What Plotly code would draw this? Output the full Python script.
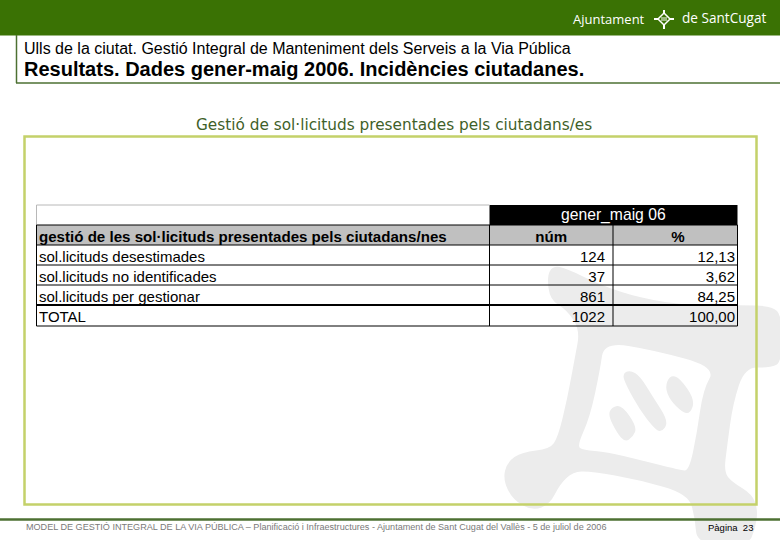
import plotly.graph_objects as go

W, H = 780, 540

# dades de la taula
categories = ['sol.licituds desestimades', 'sol.licituds no identificades', 'sol.licituds per gestionar', 'TOTAL']
num_values = ['124', '37', '861', '1022']
pct_values = ['12,13', '3,62', '84,25', '100,00']
table_title = 'gestió de les sol·licituds presentades pels ciutadans/nes'
col_num = 'núm'
col_pct = '%'
period = 'gener_maig 06'

GREEN = '#3a7204'
FRAME = '#c4d16a'
LINE_GREEN = '#4d7032'
WATERMARK = '#ececec'

# limits de la taula en pixels
COLS = [36.5, 489.5, 613, 737.5]
ROWS = [205, 225, 245, 265, 285, 305, 326]
TEXT_LEFT, TEXT_RIGHT = 31, 743
TEXT_SHIFT = 2


def px(x):
    return x / W


def py(y):
    return 1 - y / H


def smooth_path(points):
    """tanca un contorn amb corbes entre els punts mitjans"""
    mids = [((points[i][0] + points[(i + 1) % len(points)][0]) / 2,
             (points[i][1] + points[(i + 1) % len(points)][1]) / 2) for i in range(len(points))]
    d = f'M{px(mids[-1][0]):.5f},{py(mids[-1][1]):.5f}'
    for p, m in zip(points, mids):
        d += f' Q{px(p[0]):.5f},{py(p[1]):.5f} {px(m[0]):.5f},{py(m[1]):.5f}'
    return d + ' Z'


def rect(x0, y0, x1, y1, fill=None, line=None, width=1):
    return dict(type='rect', xref='paper', yref='paper', layer='below',
                x0=px(x0), x1=px(x1), y0=py(y0), y1=py(y1),
                fillcolor=fill or 'rgba(0,0,0,0)',
                line=dict(color=line or 'rgba(0,0,0,0)', width=width if line else 0))


def seg(x0, y0, x1, y1, color='black', width=1):
    return dict(type='line', xref='paper', yref='paper', layer='above',
                x0=px(x0), x1=px(x1), y0=py(y0), y1=py(y1),
                line=dict(color=color, width=width))


def text(x, y, s, size, color='black', anchor='left', family='Liberation Sans'):
    return dict(xref='paper', yref='paper', x=px(x), y=py(y), text=s, showarrow=False,
                xanchor=anchor, yanchor='middle', borderpad=0,
                font=dict(family=family, size=size, color=color))


# marca d'aigua del fons
outline = [(547, 276), (553, 266), (566, 268), (600, 285), (640, 298), (690, 306), (740, 305), (772, 306),
           (782, 316), (782, 362), (770, 368), (745, 367), (733, 403), (727, 447), (724, 472), (732, 482),
           (752, 494), (758, 510), (755, 530), (748, 545), (697, 545), (695, 517), (688, 494), (640, 480),
           (590, 471), (573, 472), (560, 484), (550, 504), (533, 511), (513, 500), (503, 480), (507, 462),
           (522, 452), (550, 449), (558, 437), (567, 400), (575, 357), (580, 330), (567, 310), (550, 300)]
hole = [(604, 342), (653, 350), (716, 367), (703, 390), (697, 433), (689, 471), (680, 470), (640, 460),
        (607, 452), (583, 450), (577, 446), (590, 417), (600, 370)]
blob_a = [(622, 374), (630, 370), (640, 376), (653, 397), (669, 422), (661, 433), (653, 427), (640, 410), (627, 387)]
blob_b = [(665, 387), (670, 375), (680, 378), (695, 400), (690, 414), (682, 412), (670, 400)]
blob_c = [(608, 415), (612, 407), (622, 405), (637, 427), (633, 437), (625, 442), (617, 433)]
watermark = ' '.join(smooth_path(p) for p in [outline, hole, blob_a, blob_b, blob_c])

shapes = [
    dict(type='path', xref='paper', yref='paper', layer='below', path=watermark,
         fillcolor=WATERMARK, line=dict(width=0)),
    rect(0, 0, W, 35.5, fill=GREEN),
    rect(24.5, 136.5, 756.5, 504.5, line=FRAME, width=2.5),
    rect(COLS[0], ROWS[1], COLS[3], ROWS[2], fill='#c0c0c0'),
    rect(COLS[1], ROWS[0], COLS[3], ROWS[1], fill='black'),
    seg(16.5, 35, 16.5, 83, color=LINE_GREEN, width=1.5),
    seg(16, 83, W, 83, color=LINE_GREEN, width=1.5),
    seg(0, 519.5, W, 519.5, color=LINE_GREEN, width=2.5),
    # reixa de la taula
    seg(COLS[0], ROWS[0], COLS[1], ROWS[0], color='#b8b8b8'),
    seg(COLS[0], ROWS[0], COLS[0], ROWS[1], color='#b8b8b8'),
]
for y in ROWS[1:]:
    shapes.append(seg(COLS[0], y, COLS[3], y, width=2 if y == ROWS[5] else 1))
for x in COLS:
    shapes.append(seg(x, ROWS[1], x, ROWS[-1]))

# escut del logotip
LX, LY = 664, 19
shapes += [
    dict(type='path', xref='paper', yref='paper', layer='above',
         path=f'M{px(LX)},{py(LY - 6)} L{px(LX + 6)},{py(LY)} L{px(LX)},{py(LY + 6)} L{px(LX - 6)},{py(LY)} Z',
         fillcolor='rgba(0,0,0,0)', line=dict(color='white', width=1.5)),
    seg(LX - 10, LY, LX - 6, LY, color='white', width=2),
    seg(LX + 6, LY, LX + 10, LY, color='white', width=2),
    seg(LX, LY - 9, LX, LY - 6, color='white', width=2),
    seg(LX, LY + 6, LX, LY + 10, color='white', width=2),
    seg(LX - 2, LY - 2, LX - 2, LY + 2, color='white', width=1),
    seg(LX, LY - 2, LX, LY + 2, color='white', width=1),
    seg(LX + 2, LY - 2, LX + 2, LY + 2, color='white', width=1),
]

annotations = [
    text(572, 19, 'Ajuntament', 13, color='white', family='Open Sans'),
    text(681, 18, 'de SantCugat', 13.6, color='white', family='Open Sans'),
    text(23, 48, 'Ulls de la ciutat. Gestió Integral de Manteniment dels Serveis a la Via Pública', 16),
    text(23, 69, '<b>Resultats. Dades gener-maig 2006. Incidències ciutadanes.</b>', 20),
    text(394, 125, 'Gestió de sol·licituds presentades pels ciutadans/es', 15.3, color='#3f5f2a', anchor='center', family='DejaVu Sans'),
    text((COLS[1] + COLS[3]) / 2, 215, period, 15.7, color='white', anchor='center'),
    text(25, 527, 'MODEL DE GESTIÓ INTEGRAL DE LA VIA PÚBLICA – Planificació i Infraestructures - Ajuntament de Sant Cugat del Vallès - 5 de juliol de 2006', 9.08, color='#7a7a7a'),
    text(707, 527, 'Pàgina  23', 9.5),
]

fig = go.Figure(go.Table(
    domain=dict(x=[px(TEXT_LEFT), px(TEXT_RIGHT)], y=[py(ROWS[-1] + 1), py(ROWS[1] - TEXT_SHIFT)]),
    columnwidth=[COLS[1] - TEXT_LEFT, COLS[2] - COLS[1], TEXT_RIGHT - COLS[2]],
    header=dict(
        values=[table_title, col_num, col_pct],
        height=20,
        align=['left', 'center', 'center'],
        fill=dict(color='rgba(0,0,0,0)'),
        line=dict(width=0, color='rgba(0,0,0,0)'),
        font=dict(family='Liberation Sans', size=15.1, color='black', weight='bold'),
    ),
    cells=dict(
        values=[categories, num_values, pct_values],
        height=20,
        align=['left', 'right', 'right'],
        fill=dict(color='rgba(0,0,0,0)'),
        line=dict(width=0, color='rgba(0,0,0,0)'),
        font=dict(family='Liberation Sans', size=15, color='black'),
    ),
))

fig.update_layout(
    width=W, height=H,
    margin=dict(l=0, r=0, t=0, b=0),
    paper_bgcolor='white',
    showlegend=False,
    shapes=shapes,
    annotations=annotations,
)

fig.write_html("out.html", config=dict(displayModeBar=False),
               post_script="document.body.style.margin='0';document.body.style.overflow='hidden';")
